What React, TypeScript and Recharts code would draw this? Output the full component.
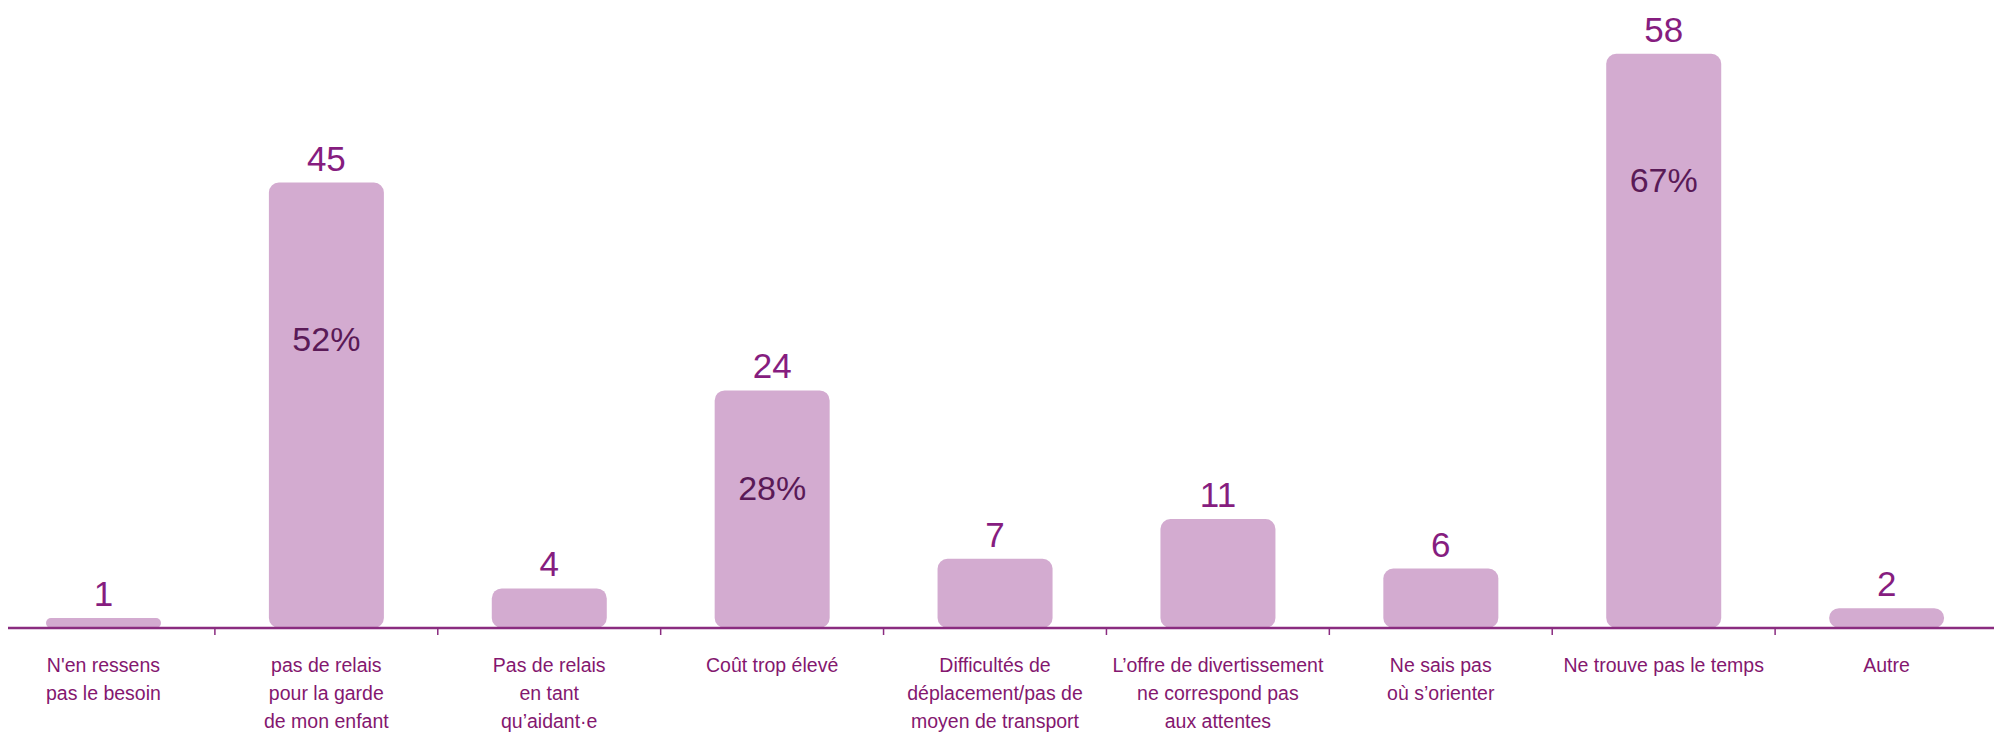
import React from "react";
import { Bar, BarChart, LabelList, XAxis, YAxis } from "recharts";

const categories = [
  "N'en ressens\npas le besoin",
  "pas de relais\npour la garde\nde mon enfant",
  "Pas de relais\nen tant\nqu’aidant·e",
  "Coût trop élevé",
  "Difficultés de\ndéplacement/pas de\nmoyen de transport",
  "L’offre de divertissement\nne correspond pas\naux attentes",
  "Ne sais pas\noù s’orienter",
  "Ne trouve pas le temps",
  "Autre",
];
const counts = [1, 45, 4, 24, 7, 11, 6, 58, 2];
const percents: (number | null)[] = [null, 52, null, 28, null, null, null, 67, null];

const data = categories.map((name, i) => ({
  name,
  count: counts[i],
  pct: percents[i],
}));

// vertical offset of the % label from the top of its bar
const pctOffset = [0, 168, 0, 110, 0, 0, 0, 138, 0];

const BAR = "#d3abd0";
const AXIS = "#8a2c80";
const VALUE = "#861d7f";
const PCT = "#5a1a57";
const LABEL = "#84176f";

type TickProps = {
  x: number;
  y: number;
  payload: { value: string; offset?: number };
};

function CategoryTick({ x, y, payload }: TickProps) {
  const lines = String(payload.value).split("\n");
  const half = payload.offset ?? 111.5;
  return (
    <g>
      <line x1={x + half} x2={x + half} y1={y} y2={y + 7} stroke={AXIS} strokeWidth={1.5} />
      <text
        x={x}
        y={y + 44}
        textAnchor="middle"
        fill={LABEL}
        fontFamily="Liberation Sans, Arial, sans-serif"
        fontSize={19.5}
      >
        {lines.map((line, i) => (
          <tspan key={i} x={x} dy={i === 0 ? 0 : 28}>
            {line}
          </tspan>
        ))}
      </text>
    </g>
  );
}

function PctLabel(props: any) {
  const { x, y, width, value, index } = props;
  if (value == null) return null;
  return (
    <text
      x={x + width / 2}
      y={y + pctOffset[index]}
      textAnchor="middle"
      fill={PCT}
      fontFamily="Liberation Sans, Arial, sans-serif"
      fontSize={34}
    >
      {value}%
    </text>
  );
}

export default function App() {
  return (
    <BarChart
      width={1994}
      height={726}
      data={data}
      margin={{ top: 26, right: 4, left: 0, bottom: 0 }}
    >
      <XAxis
        dataKey="name"
        height={106}
        interval={0}
        padding={{ left: -16, right: 0 }}
        axisLine={{ stroke: AXIS, strokeWidth: 2.5 }}
        tickLine={false}
        tickSize={0}
        tickMargin={0}
        tick={(p: any) => <CategoryTick {...p} />}
      />
      <YAxis hide domain={[0, 60]} />
      <Bar
        dataKey="count"
        fill={BAR}
        barSize={115}
        radius={[10, 10, 10, 10]}
        isAnimationActive={false}
      >
        <LabelList
          dataKey="count"
          position="top"
          offset={12}
          fill={VALUE}
          fontFamily="Liberation Sans, Arial, sans-serif"
          fontSize={35}
        />
        <LabelList dataKey="pct" content={<PctLabel />} />
      </Bar>
    </BarChart>
  );
}
